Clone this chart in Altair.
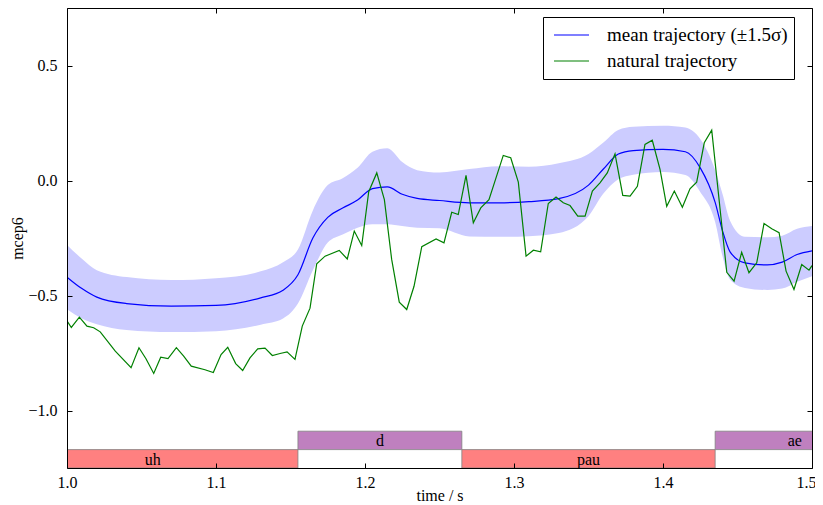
import altair as alt
import pandas as pd

# ---- mean trajectory and +-1.5 sigma band ----
band_t = [1.000, 1.010, 1.020, 1.040, 1.070, 1.100, 1.130, 1.145, 1.155, 1.165,
          1.175, 1.185, 1.195, 1.205, 1.215, 1.225, 1.235, 1.250, 1.270, 1.290,
          1.310, 1.330, 1.350, 1.360, 1.370, 1.380, 1.400, 1.415, 1.425, 1.435,
          1.440, 1.445, 1.455, 1.470, 1.480, 1.490, 1.500]
mean_y = [-0.42, -0.47, -0.507, -0.535, -0.546, -0.543, -0.51, -0.477, -0.41, -0.25,
          -0.16, -0.12, -0.085, -0.035, -0.028, -0.06, -0.078, -0.087, -0.097, -0.097,
          -0.092, -0.079, -0.02, 0.05, 0.115, 0.13, 0.135, 0.125, 0.055, -0.095,
          -0.22, -0.31, -0.358, -0.367, -0.355, -0.322, -0.306]
upper_y = [-0.28, -0.34, -0.39, -0.42, -0.433, -0.425, -0.395, -0.355, -0.30, -0.13,
           -0.02, 0.01, 0.055, 0.125, 0.14, 0.08, 0.045, 0.035, 0.05, 0.062,
           0.06, 0.075, 0.115, 0.165, 0.22, 0.234, 0.238, 0.23, 0.18, 0.045,
           -0.06, -0.175, -0.245, -0.247, -0.24, -0.21, -0.198]
lower_y = [-0.56, -0.60, -0.625, -0.65, -0.659, -0.655, -0.627, -0.60, -0.535, -0.39,
           -0.27, -0.235, -0.205, -0.19, -0.19, -0.198, -0.205, -0.208, -0.243, -0.245,
           -0.242, -0.228, -0.155, -0.057, 0.005, 0.025, 0.037, 0.024, -0.05, -0.18,
           -0.33, -0.43, -0.467, -0.476, -0.47, -0.44, -0.416]

# ---- natural trajectory ----
nat_t = [1.0, 1.0029, 1.0083, 1.0134, 1.0179, 1.0223, 1.0324, 1.0430, 1.0483, 1.0530,
         1.0582, 1.0629, 1.0678, 1.0734, 1.0783, 1.0834, 1.0926, 1.0982, 1.1034, 1.1079,
         1.1132, 1.1179, 1.1228, 1.1280, 1.1329, 1.1378, 1.1430, 1.1477, 1.1530, 1.1579,
         1.1631, 1.1676, 1.1732, 1.1827, 1.1881, 1.1928, 1.1978, 1.2025, 1.2079, 1.2130,
         1.2179, 1.2230, 1.2280, 1.2329, 1.2381, 1.2477, 1.2530, 1.2582, 1.2626, 1.2678,
         1.2727, 1.2777, 1.2832, 1.2928, 1.2978, 1.3029, 1.3081, 1.3130, 1.3179, 1.3230,
         1.3282, 1.3331, 1.3376, 1.3428, 1.3477, 1.3526, 1.3577, 1.3626, 1.3678, 1.3730,
         1.3779, 1.3828, 1.3879, 1.3928, 1.3980, 1.4025, 1.4076, 1.4130, 1.4181, 1.4226,
         1.4277, 1.4327, 1.4428, 1.4477, 1.4528, 1.4577, 1.4629, 1.4678, 1.4730, 1.4779,
         1.4826, 1.4879, 1.4931, 1.4980, 1.5]
nat_y = [-0.61, -0.639, -0.594, -0.633, -0.640, -0.658, -0.742, -0.814, -0.727, -0.775,
         -0.839, -0.768, -0.774, -0.727, -0.764, -0.807, -0.823, -0.835, -0.757, -0.725,
         -0.796, -0.826, -0.771, -0.732, -0.729, -0.761, -0.752, -0.745, -0.778, -0.633,
         -0.555, -0.362, -0.329, -0.304, -0.341, -0.220, -0.283, -0.049, 0.033, -0.083,
         -0.343, -0.529, -0.561, -0.46, -0.288, -0.254, -0.271, -0.138, -0.148, 0.022,
         -0.184, -0.119, -0.083, 0.109, 0.099, -0.007, -0.329, -0.303, -0.310, -0.100,
         -0.072, -0.097, -0.109, -0.155, -0.155, -0.046, -0.010, 0.033, 0.116, -0.065,
         -0.068, -0.025, 0.157, 0.175, 0.048, -0.112, -0.046, -0.116, -0.036, -0.007,
         0.164, 0.219, -0.399, -0.438, -0.312, -0.401, -0.358, -0.187, -0.210, -0.227,
         -0.394, -0.474, -0.365, -0.390, -0.37]

# ---- phone segmentation ----
ph_label = ["uh", "d", "pau", "ae"]
ph_start = [0.96, 1.155, 1.265, 1.435]
ph_end = [1.155, 1.265, 1.435, 1.542]
ph_bottom = [-1.25, -1.17, -1.25, -1.17]
ph_top = [-1.17, -1.09, -1.17, -1.09]
ph_color = ["#ff8080", "#bf80bf", "#ff8080", "#bf80bf"]

x_ticks = [1.0, 1.1, 1.2, 1.3, 1.4, 1.5]
y_ticks = [-1.0, -0.5, 0.0, 0.5]

MEAN = "mean trajectory (±1.5σ)"
NAT = "natural trajectory"
FONT = "Liberation Serif"

band_df = pd.DataFrame({"t": band_t, "lo": lower_y, "hi": upper_y})
mean_df = pd.DataFrame({"t": band_t, "v": mean_y, "series": MEAN})
nat_df = pd.DataFrame({"t": nat_t, "v": nat_y, "series": NAT})
ph_df = pd.DataFrame({"label": ph_label, "start": ph_start, "end": ph_end,
                      "bottom": ph_bottom, "top": ph_top, "color": ph_color})
ph_df["mid"] = (ph_df["start"] + ph_df["end"]) / 2
ph_df["ymid"] = (ph_df["bottom"] + ph_df["top"]) / 2

xs = alt.Scale(domain=[1.0, 1.5], nice=False, zero=False)
ys = alt.Scale(domain=[-1.25, 0.75], nice=False, zero=False)
cs = alt.Scale(domain=[MEAN, NAT], range=["#0000ff", "#008000"])

common = dict(grid=False, zindex=1, tickColor="black", domainColor="black",
              labelColor="black", titleColor="black")

# main axes: frame line + labels
ax_b = alt.Axis(orient="bottom", values=x_ticks, format=".1f", ticks=False,
                labelFlush=False, labelPadding=6, title="time / s", titlePadding=-3,
                labelAlign={"condition": {"test": "datum.value >= 1.45", "value": "right"},
                            "value": "center"},
                labelOffset={"condition": {"test": "datum.value >= 1.45", "value": 4},
                             "value": 0},
                **common)
ax_l = alt.Axis(orient="left", values=y_ticks, format=".1f", ticks=False,
                labelFlush=False, labelPadding=10, title="mcep6", titlePadding=2,
                **common)
# frame lines top/right
ax_t = alt.Axis(orient="top", values=x_ticks, ticks=False, labels=False, title=None, **common)
ax_r = alt.Axis(orient="right", values=y_ticks, ticks=False, labels=False, title=None, **common)
# inward ticks
tk_b = alt.Axis(orient="bottom", values=x_ticks, offset=-5, tickSize=5, domain=False,
                labels=False, title=None, **common)
tk_l = alt.Axis(orient="left", values=y_ticks, offset=-5, tickSize=5, domain=False,
                labels=False, title=None, **common)
tk_t = alt.Axis(orient="top", values=x_ticks, offset=-5, tickSize=5, domain=False,
                labels=False, title=None, **common)
tk_r = alt.Axis(orient="right", values=y_ticks, offset=-5, tickSize=5, domain=False,
                labels=False, title=None, **common)

legend = alt.Legend(orient="none", legendX=476, legendY=9, title=None,
                    symbolType="stroke", symbolSize=1225, symbolStrokeWidth=1.2,
                    symbolOffset=4, clipHeight=24,
                    labelFont=FONT, labelFontSize=19, labelColor="black",
                    strokeColor="black", fillColor="white",
                    padding=6, rowPadding=2, labelOffset=17,
                    labelLimit=400, cornerRadius=0)

band = alt.Chart(band_df).mark_area(color="#ccccff", opacity=1, clip=True,
                                    interpolate="monotone").encode(
    x=alt.X("t:Q", scale=xs, axis=ax_b),
    y=alt.Y("lo:Q", scale=ys, axis=ax_l),
    y2="hi:Q",
)

mean_line = alt.Chart(mean_df).mark_line(strokeWidth=1.2, clip=True,
                                         interpolate="monotone").encode(
    x=alt.X("t:Q", scale=xs, axis=ax_t),
    y=alt.Y("v:Q", scale=ys, axis=ax_r),
    color=alt.Color("series:N", scale=cs, legend=legend),
)

nat_line = alt.Chart(nat_df).mark_line(strokeWidth=1.2, clip=True).encode(
    x=alt.X("t:Q", scale=xs, axis=None),
    y=alt.Y("v:Q", scale=ys, axis=None),
    color=alt.Color("series:N", scale=cs, legend=legend),
)

rects = alt.Chart(ph_df).mark_rect(stroke="#808080", strokeWidth=0.8, clip=True).encode(
    x=alt.X("start:Q", scale=xs, axis=tk_b),
    x2="end:Q",
    y=alt.Y("bottom:Q", scale=ys, axis=tk_l),
    y2="top:Q",
    fill=alt.Fill("color:N", scale=None, legend=None),
)

labels = alt.Chart(ph_df).mark_text(font=FONT, fontSize=16, color="black",
                                    baseline="middle", dy=1, clip=True).encode(
    x=alt.X("mid:Q", scale=xs, axis=tk_t),
    y=alt.Y("ymid:Q", scale=ys, axis=tk_r),
    text="label:N",
)

chart = alt.layer(band, mean_line, nat_line, rects, labels).resolve_axis(
    x="independent", y="independent"
).properties(
    width=745, height=460,
    autosize=alt.AutoSizeParams(type="none"),
    padding={"left": 59, "top": 0, "right": 3, "bottom": 37},
).configure_view(stroke=None).configure_axis(
    labelFont=FONT, titleFont=FONT, labelFontSize=16, titleFontSize=16,
    titleFontWeight="normal",
)

chart.save("out.html", embed_options={"renderer": "svg", "actions": False})
